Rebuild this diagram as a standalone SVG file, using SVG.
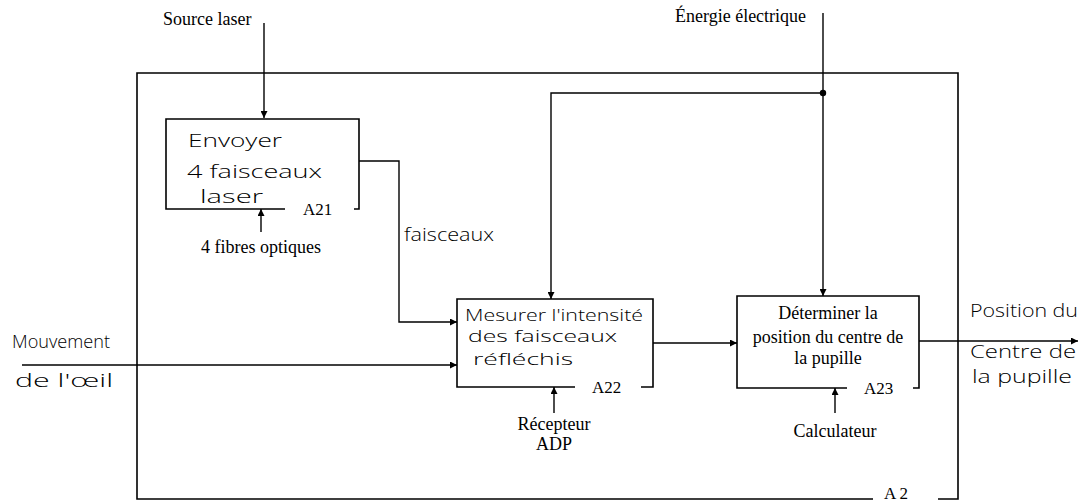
<svg xmlns="http://www.w3.org/2000/svg" width="1086" height="503" viewBox="0 0 1086 503">
<style>
.ln{fill:none;stroke:#000;stroke-width:1.4}
.bx{fill:none;stroke:#000;stroke-width:1.6}
.pr{font-family:"Liberation Serif","Times New Roman",serif;font-size:18px;fill:#000}
.lb{font-family:"Liberation Serif","Times New Roman",serif;font-size:17px;fill:#000}
.hw{font-family:"Open Sans","DejaVu Sans",sans-serif;font-size:19px;font-weight:300;fill:#000}
.hs{font-family:"Open Sans","DejaVu Sans",sans-serif;font-size:16px;font-weight:300;fill:#000}
</style>
<defs>
<marker id="ah" viewBox="0 0 10 10" refX="10" refY="5" markerWidth="9" markerHeight="7" markerUnits="userSpaceOnUse" orient="auto">
<path d="M0,0 L10,5 L0,10 z" fill="#000"/>
</marker>
</defs>
<rect width="1086" height="503" fill="#fff"/>

<g id="frame-A2">
<path class="bx" d="M873,499 H137 V73 H958 V499 H938"/>
<text class="lb" x="884" y="499" font-size="16">A 2</text>
</g>

<g id="connectors">
<path class="ln" d="M264,23 V118" marker-end="url(#ah)"/>
<path class="ln" d="M261,232 V209" marker-end="url(#ah)"/>
<path class="ln" d="M823,13 V296" marker-end="url(#ah)"/>
<path class="ln" d="M823,93 H551 V299" marker-end="url(#ah)"/>
<circle cx="823" cy="93" r="3.2" fill="#000"/>
<path class="ln" d="M359,161 H399 V322 H457" marker-end="url(#ah)"/>
<path class="ln" d="M22,365 H457" marker-end="url(#ah)"/>
<path class="ln" d="M653,343 H737" marker-end="url(#ah)"/>
<path class="ln" d="M554,413 V387" marker-end="url(#ah)"/>
<path class="ln" d="M835,413 V388" marker-end="url(#ah)"/>
<path class="ln" d="M919,341 H1078" marker-end="url(#ah)"/>
</g>

<g id="A21">
<path class="bx" d="M285,209 H166 V119 H359 V209 H354"/>
<text class="hw" x="188" y="147" textLength="94" lengthAdjust="spacingAndGlyphs">Envoyer</text>
<text class="hw" x="187" y="178" textLength="135" lengthAdjust="spacingAndGlyphs">4 faisceaux</text>
<text class="hw" x="200" y="203" textLength="63" lengthAdjust="spacingAndGlyphs">laser</text>
<text class="lb" x="303" y="215">A21</text>
</g>

<g id="A22">
<path class="bx" d="M575,387 H457 V299 H653 V387 H641"/>
<text class="hs" x="465" y="321" textLength="178" lengthAdjust="spacingAndGlyphs">Mesurer l'intensité</text>
<text class="hs" x="468" y="342" textLength="149" lengthAdjust="spacingAndGlyphs">des faisceaux</text>
<text class="hs" x="473" y="365" textLength="100" lengthAdjust="spacingAndGlyphs">réfléchis</text>
<text class="lb" x="592" y="393">A22</text>
</g>

<g id="A23">
<path class="bx" d="M847,388 H737 V296 H919 V388 H913"/>
<text class="pr" x="828" y="319" text-anchor="middle">Déterminer la</text>
<text class="pr" x="828" y="343" text-anchor="middle">position du centre de</text>
<text class="pr" x="828" y="364" text-anchor="middle">la pupille</text>
<text class="lb" x="864" y="394">A23</text>
</g>

<g id="labels">
<text class="pr" x="163" y="25">Source laser</text>
<text class="pr" x="675" y="22">Énergie électrique</text>
<text class="pr" x="261" y="253" text-anchor="middle">4 fibres optiques</text>
<text class="pr" x="554" y="430" text-anchor="middle">Récepteur</text>
<text class="pr" x="554" y="450" text-anchor="middle">ADP</text>
<text class="pr" x="835" y="437" text-anchor="middle">Calculateur</text>
<text class="hw" x="404" y="241" textLength="90" lengthAdjust="spacingAndGlyphs">faisceaux</text>
<text class="hw" x="12" y="348" textLength="98" lengthAdjust="spacingAndGlyphs">Mouvement</text>
<text class="hw" x="15" y="387" textLength="98" lengthAdjust="spacingAndGlyphs">de l'œil</text>
<text class="hw" x="970" y="317" textLength="108" lengthAdjust="spacingAndGlyphs">Position du</text>
<text class="hw" x="970" y="358" textLength="106" lengthAdjust="spacingAndGlyphs">Centre de</text>
<text class="hw" x="972" y="383" textLength="100" lengthAdjust="spacingAndGlyphs">la pupille</text>
</g>
</svg>
